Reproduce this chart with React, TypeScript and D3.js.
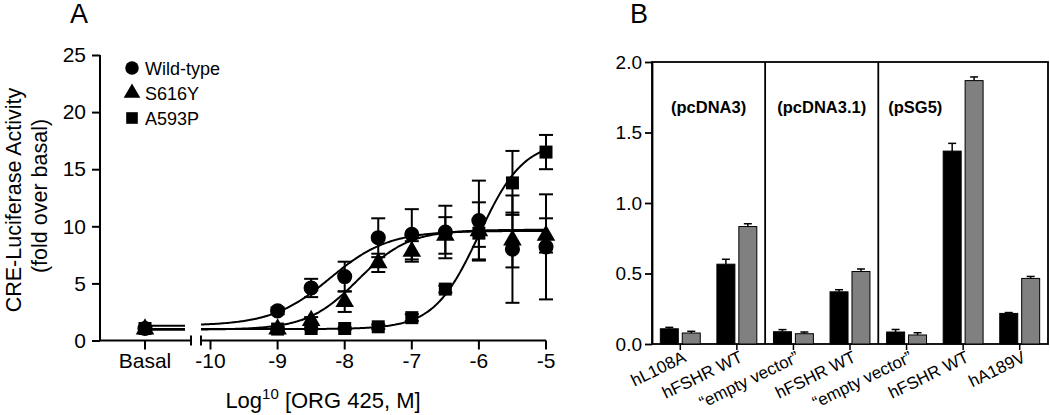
import React, { useEffect, useRef } from "react";
import * as d3 from "d3";

// Panel A: dose-response (log10 M)
const doses = [-9, -8.5, -8, -7.5, -7, -6.5, -6, -5.5, -5];
const seriesNames = ["Wild-type", "S616Y", "A593P"];
const wildType = [2.6, 4.6, 5.6, 9.0, 9.3, 9.5, 10.5, 8.0, 8.2];
const wildTypeErr = [0.3, 0.8, 1.3, 1.7, 2.2, 2.3, 3.5, 4.7, 4.6];
const s616y = [1.0, 1.75, 3.4, 6.8, 7.8, 9.2, 9.6, 8.8, 9.2];
const s616yErr = [0.2, 0.3, 0.9, 0.8, 0.9, 1.6, 2.5, 2.4, 1.5];
const a593p = [1.0, 1.05, 1.05, 1.2, 2.0, 4.5, 9.4, 13.8, 16.5];
const a593pErr = [0.1, 0.1, 0.1, 0.2, 0.3, 0.3, 1.2, 2.8, 1.5];
const basalValues = [1.05, 1.0, 1.05];
// fitted curve params: bottom, top, logEC50, hill
const fitBottom = [1.3, 0.95, 1.0];
const fitTop = [9.6, 9.7, 17.5];
const fitEC50 = [-8.22, -7.8, -6.0];
const fitHill = [1.0, 1.15, 1.3];
const yTicksA = [0, 5, 10, 15, 20, 25];
const xTicksA = [-10, -9, -8, -7, -6, -5];

// Panel B: bars
const categoriesB = ["hL108A", "hFSHR WT", "\u201Cempty vector\u201D", "hFSHR WT", "\u201Cempty vector\u201D", "hFSHR WT", "hA189V"];
const blackVals = [0.108, 0.566, 0.087, 0.37, 0.085, 1.368, 0.217];
const blackErr = [0.01, 0.035, 0.015, 0.015, 0.018, 0.055, 0.006];
const greyVals = [0.078, 0.833, 0.073, 0.514, 0.064, 1.868, 0.465];
const greyErr = [0.012, 0.02, 0.012, 0.018, 0.016, 0.026, 0.014];
const vectors = ["(pcDNA3)", "(pcDNA3.1)", "(pSG5)"];
const vectorStart = [0, 2, 4];
const vectorEnd = [2, 4, 7];
const yTicksB = [0, 0.5, 1.0, 1.5, 2.0];

const FONT = "'Liberation Sans', Arial, Helvetica, sans-serif";

function App() {
  const ref = useRef<SVGSVGElement>(null);

  useEffect(() => {
    const svg = d3.select(ref.current);
    svg.selectAll("*").remove();
    svg.attr("font-family", FONT);

    drawPanelA(svg.append("g"));
    drawPanelB(svg.append("g"));
  }, []);

  function drawPanelA(g: any) {
    const y = d3.scaleLinear().domain([0, 25]).range([340.5, 55]);
    const xBasalPos = 145;
    const seg1End = 191;
    const x = d3.scaleLinear().domain([-10, -5]).range([210.5, 546]);
    const seg2Start = 201;
    const xStart = x.invert(seg2Start);

    g.append("text").attr("x", 70).attr("y", 23).attr("font-size", 27).text("A");

    // y axis
    const yAxis = d3.axisLeft(y).tickValues(yTicksA).tickSize(8).tickPadding(6).tickSizeOuter(0);
    const ya = g.append("g").attr("transform", "translate(100,0)").call(yAxis);
    ya.selectAll("path, line").attr("stroke", "#000").attr("stroke-width", 2);
    ya.selectAll("text").attr("font-size", 21).attr("font-family", FONT).attr("fill", "#000");
    ya.select(".domain").attr("d", `M0,${y(0)}V${y(25)}`);

    // x axis, part 1 (Basal)
    const xa = g.append("g").attr("stroke", "#000").attr("stroke-width", 2);
    xa.append("line").attr("x1", 100).attr("x2", seg1End).attr("y1", y(0)).attr("y2", y(0));
    xa.append("line").attr("x1", seg1End).attr("x2", seg1End).attr("y1", y(0) - 5).attr("y2", y(0) + 5);
    xa.append("line").attr("x1", xBasalPos).attr("x2", xBasalPos).attr("y1", y(0)).attr("y2", y(0) + 9);
    // part 2
    xa.append("line").attr("x1", seg2Start).attr("x2", x(-5)).attr("y1", y(0)).attr("y2", y(0));
    xa.append("line").attr("x1", seg2Start).attr("x2", seg2Start).attr("y1", y(0) - 5).attr("y2", y(0) + 5);
    xa.selectAll(".tk").data(xTicksA).enter().append("line")
      .attr("x1", (d: number) => x(d)).attr("x2", (d: number) => x(d))
      .attr("y1", y(0)).attr("y2", y(0) + 9);

    const tl = g.append("g").attr("font-size", 21).attr("text-anchor", "middle");
    tl.append("text").attr("x", xBasalPos).attr("y", 368).text("Basal");
    tl.selectAll(".tl").data(xTicksA).enter().append("text")
      .attr("x", (d: number) => x(d)).attr("y", 368).text((d: number) => d);

    // titles
    const t = g.append("text").attr("x", 323).attr("y", 408).attr("text-anchor", "middle").attr("font-size", 22);
    t.append("tspan").text("Log");
    t.append("tspan").attr("font-size", 15).attr("dy", -9).text("10");
    t.append("tspan").attr("dy", 9).text(" [ORG 425, M]");

    g.append("text").attr("transform", "translate(21,200) rotate(-90)").attr("text-anchor", "middle")
      .attr("font-size", 21.5).text("CRE-Luciferase Activity");
    g.append("text").attr("transform", "translate(47,196) rotate(-90)").attr("text-anchor", "middle")
      .attr("font-size", 21.5).text("(fold over basal)");

    const values = [wildType, s616y, a593p];
    const errs = [wildTypeErr, s616yErr, a593pErr];
    const symbols = [d3.symbolCircle, d3.symbolTriangle, d3.symbolSquare];
    const sizes = [180, 150, 169];

    // fitted curves
    const line = d3.line<number>().x((d) => x(d[0])).y((d) => y(d[1]));
    seriesNames.forEach((_, s) => {
      const f = (lx: number) => fitBottom[s] + (fitTop[s] - fitBottom[s]) / (1 + Math.pow(10, (fitEC50[s] - lx) * fitHill[s]));
      const pts = d3.range(xStart, -5.0001, 0.02).concat([-5]).map((lx) => [lx, f(lx)]);
      g.append("path").attr("d", line(pts as any)).attr("fill", "none").attr("stroke", "#000").attr("stroke-width", 2);
      g.append("line").attr("x1", xBasalPos).attr("x2", seg1End - 6)
        .attr("y1", y(fitBottom[s])).attr("y2", y(fitBottom[s]))
        .attr("stroke", "#000").attr("stroke-width", 2);
    });

    // error bars
    seriesNames.forEach((_, s) => {
      const eb = g.append("g").attr("stroke", "#000").attr("stroke-width", 2);
      doses.forEach((d, i) => {
        const v = values[s][i], e = errs[s][i];
        eb.append("line").attr("x1", x(d)).attr("x2", x(d)).attr("y1", y(v - e)).attr("y2", y(v + e));
        eb.append("line").attr("x1", x(d) - 7).attr("x2", x(d) + 7).attr("y1", y(v - e)).attr("y2", y(v - e));
        eb.append("line").attr("x1", x(d) - 7).attr("x2", x(d) + 7).attr("y1", y(v + e)).attr("y2", y(v + e));
      });
    });

    // markers
    seriesNames.forEach((_, s) => {
      const sym = d3.symbol().type(symbols[s]).size(sizes[s]);
      const pts = [[xBasalPos, basalValues[s]]].concat(doses.map((d, i) => [x(d), values[s][i]]));
      g.selectAll(".m" + s).data(pts).enter().append("path")
        .attr("d", sym as any)
        .attr("transform", (p: number[]) => `translate(${p[0]},${y(p[1])})`)
        .attr("fill", "#000");
    });

    // legend
    const legY = [68, 93, 118];
    seriesNames.forEach((name, s) => {
      const sym = d3.symbol().type(symbols[s]).size(sizes[s] * 0.8);
      g.append("path").attr("d", sym as any).attr("transform", `translate(132,${legY[s]})`).attr("fill", "#000");
      g.append("text").attr("x", 145).attr("y", legY[s] + 6.5).attr("font-size", 18).text(name);
    });
  }

  function drawPanelB(g: any) {
    const left = 652, right = 1048, top = 62, bottom = 344;
    const y = d3.scaleLinear().domain([0, 2]).range([bottom, top]);
    const x = d3.scaleBand<number>().domain(d3.range(categoriesB.length)).range([left, right]);
    const sub = d3.scaleBand<string>().domain(["black", "grey"]).range([0, x.bandwidth()])
      .paddingInner(0.18).paddingOuter(0.38);

    g.append("text").attr("x", 630).attr("y", 23).attr("font-size", 27).text("B");

    const yAxis = d3.axisLeft(y).tickValues(yTicksB).tickFormat(d3.format(".1f")).tickSize(7).tickPadding(3).tickSizeOuter(0);
    const ya = g.append("g").attr("transform", `translate(${left},0)`).call(yAxis);
    ya.selectAll("path, line").attr("stroke", "#000").attr("stroke-width", 1.8);
    ya.selectAll("text").attr("font-size", 19).attr("font-family", FONT).attr("fill", "#000");

    // frame & dividers
    g.append("rect").attr("x", left).attr("y", top).attr("width", right - left).attr("height", bottom - top)
      .attr("fill", "none").attr("stroke", "#000").attr("stroke-width", 1.8);
    vectorStart.slice(1).forEach((s) => {
      g.append("line").attr("x1", x(s)).attr("x2", x(s)).attr("y1", top).attr("y2", bottom)
        .attr("stroke", "#000").attr("stroke-width", 1.8);
    });

    vectors.forEach((v, i) => {
      const span = vectorEnd[i] - vectorStart[i];
      const t = g.append("text").attr("y", 113).attr("font-size", 16.5).attr("font-weight", "bold").text(v);
      if (span > 2) t.attr("x", (x(vectorStart[i]) as number) + 10).attr("text-anchor", "start");
      else t.attr("x", (x(vectorStart[i]) as number) + x.bandwidth()).attr("text-anchor", "middle");
    });

    const groups = [
      { key: "black", vals: blackVals, errs: blackErr, fill: "#000" },
      { key: "grey", vals: greyVals, errs: greyErr, fill: "#808080" },
    ];
    groups.forEach((grp) => {
      categoriesB.forEach((_, i) => {
        const bx = (x(i) as number) + (sub(grp.key) as number);
        const bw = sub.bandwidth();
        const cx = bx + bw / 2;
        const v = grp.vals[i], e = grp.errs[i];
        g.append("line").attr("x1", cx).attr("x2", cx).attr("y1", y(v)).attr("y2", y(v + e))
          .attr("stroke", "#000").attr("stroke-width", 1.5);
        g.append("line").attr("x1", cx - 4).attr("x2", cx + 4).attr("y1", y(v + e)).attr("y2", y(v + e))
          .attr("stroke", "#000").attr("stroke-width", 1.5);
        g.append("rect").attr("x", bx).attr("y", y(v)).attr("width", bw).attr("height", y(0) - y(v))
          .attr("fill", grp.fill).attr("stroke", "#000").attr("stroke-width", 1);
      });
    });

    // x ticks and rotated labels
    categoriesB.forEach((c, i) => {
      const cx = (x(i) as number) + x.bandwidth() / 2;
      g.append("line").attr("x1", cx).attr("x2", cx).attr("y1", bottom).attr("y2", bottom + 6)
        .attr("stroke", "#000").attr("stroke-width", 1.5);
      g.append("text").attr("transform", `translate(${cx + 7},${bottom + 17}) rotate(-26)`)
        .attr("text-anchor", "end").attr("font-size", 17).text(c);
    });
  }

  return (
    <div style={{ position: "absolute", left: 0, top: 0 }}>
      <svg ref={ref} width={1050} height={415} style={{ display: "block", background: "#fff" }} />
    </div>
  );
}

export default App;
